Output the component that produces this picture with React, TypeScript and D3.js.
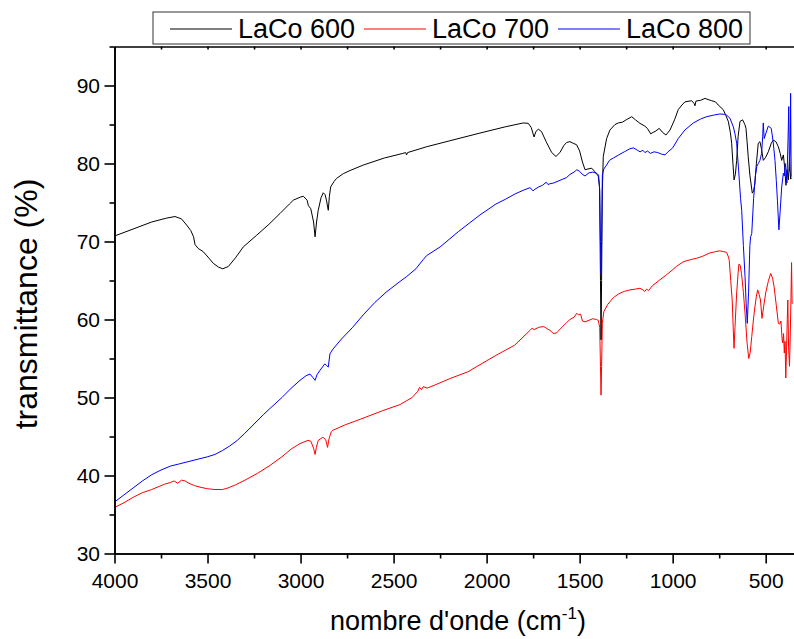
import * as d3 from 'd3';
import React, { useRef, useEffect } from 'react';

// FTIR spectra, [wavenumber cm-1, transmittance %]
const laCo600: [number, number][] = [
  [4000, 70.7], [3900, 71.6], [3800, 72.5], [3720, 73.0], [3675, 73.2], [3640, 72.9], [3612, 72.1],
  [3590, 71.4], [3575, 70.6], [3567, 69.6], [3550, 69.1], [3523, 68.7], [3490, 67.8], [3469, 67.2],
  [3440, 66.7], [3418, 66.5], [3388, 66.8], [3350, 67.9], [3308, 69.3], [3236, 70.8], [3170, 72.2],
  [3110, 73.6], [3060, 74.8], [3039, 75.3], [3000, 75.7], [2985, 75.8], [2965, 75.3], [2958, 74.6],
  [2945, 74.2], [2930, 72.5], [2922, 70.6], [2914, 72.5], [2905, 74.0], [2890, 75.6], [2878, 76.25],
  [2868, 76.0], [2860, 75.2], [2851, 74.0], [2845, 75.8], [2838, 77.0], [2820, 77.7], [2806, 78.1],
  [2770, 78.7], [2734, 79.1], [2663, 79.8], [2550, 80.7], [2450, 81.3], [2435, 81.4], [2430, 81.1],
  [2425, 81.4], [2322, 82.15], [2200, 82.9], [2036, 83.9], [1900, 84.7], [1803, 85.2], [1776, 85.15],
  [1760, 84.6], [1745, 83.4], [1735, 84.1], [1722, 84.4], [1705, 84.1], [1680, 82.8], [1650, 81.4],
  [1627, 80.9], [1606, 81.4], [1585, 82.3], [1570, 82.7], [1552, 82.8], [1535, 82.6], [1516, 82.4],
  [1500, 81.6], [1485, 80.2], [1471, 79.2], [1455, 79.3], [1435, 79.4], [1420, 79.0], [1400, 78.4],
  [1393, 77.0], [1388, 65.0], [1385, 57.4], [1382, 65.0], [1378, 76.5], [1373, 80.9], [1355, 83.2],
  [1337, 84.3], [1310, 85.0], [1292, 85.2], [1270, 85.3], [1250, 85.6], [1220, 86.0], [1200, 85.6],
  [1176, 85.15], [1150, 84.8], [1136, 84.5], [1118, 83.8], [1105, 84.0], [1095, 84.1], [1072, 84.5],
  [1055, 84.0], [1036, 83.65], [1014, 84.3], [990, 85.6], [970, 86.9], [950, 87.5], [934, 87.9],
  [898, 88.05], [885, 87.7], [880, 87.4], [875, 88.0], [850, 88.1], [826, 88.35], [810, 88.2],
  [790, 88.05], [770, 87.9], [755, 87.5], [728, 86.9], [715, 86.2], [701, 85.4], [690, 84.0],
  [683, 82.6], [676, 80.0], [670, 77.9], [663, 78.6], [656, 80.4], [648, 83.5], [638, 85.4],
  [624, 85.6], [612, 85.0], [606, 84.5], [600, 82.8], [594, 80.9], [585, 78.5], [572, 76.2],
  [565, 76.5], [558, 77.5], [550, 80.0], [540, 82.6], [531, 82.8], [522, 81.8], [513, 80.4],
  [500, 80.8], [486, 81.5], [470, 82.6], [459, 83.0], [445, 82.8], [432, 82.15], [422, 81.3],
  [414, 80.4], [405, 81.1], [398, 79.5], [391, 77.2], [385, 79.2], [378, 77.9], [372, 80.5],
  [366, 78.0], [360, 78.2],
];

const laCo700: [number, number][] = [
  [4000, 35.9], [3950, 36.5], [3900, 37.2], [3850, 37.8], [3800, 38.2], [3760, 38.6], [3730, 38.9],
  [3700, 39.1], [3680, 39.3], [3660, 39.0], [3640, 39.4], [3620, 39.3], [3600, 39.0], [3570, 38.7],
  [3540, 38.5], [3500, 38.3], [3460, 38.2], [3420, 38.2], [3390, 38.4], [3350, 38.8], [3299, 39.4],
  [3230, 40.3], [3164, 41.3], [3100, 42.4], [3050, 43.4], [3003, 44.1], [2960, 44.5], [2945, 44.4],
  [2930, 43.5], [2922, 42.7], [2915, 43.6], [2905, 44.5], [2880, 44.9], [2865, 44.6], [2855, 43.6],
  [2847, 44.7], [2835, 45.6], [2826, 45.8], [2760, 46.5], [2680, 47.2], [2560, 48.3], [2465, 49.1],
  [2400, 50.0], [2370, 50.8], [2360, 51.3], [2350, 51.0], [2340, 51.4], [2320, 51.2], [2278, 51.6],
  [2200, 52.4], [2100, 53.3], [2036, 54.2], [1950, 55.4], [1850, 56.7], [1767, 58.6], [1755, 58.9],
  [1745, 58.7], [1720, 59.0], [1693, 59.1], [1660, 58.6], [1640, 58.2], [1623, 58.3], [1600, 58.9],
  [1570, 59.6], [1552, 60.0], [1530, 60.3], [1515, 60.8], [1507, 60.6], [1495, 60.7], [1485, 59.8],
  [1471, 59.7], [1450, 59.9], [1430, 60.1], [1410, 60.0], [1400, 59.9], [1392, 59.0], [1388, 54.0],
  [1385, 50.3], [1382, 54.0], [1378, 59.5], [1370, 61.0], [1350, 61.9], [1319, 62.8], [1290, 63.3],
  [1260, 63.6], [1229, 63.8], [1200, 63.9], [1176, 64.0], [1160, 63.8], [1150, 63.6], [1140, 63.9],
  [1130, 63.7], [1110, 64.3], [1068, 65.1], [1040, 65.6], [1014, 66.1], [980, 66.8], [943, 67.4],
  [900, 67.7], [871, 67.85], [840, 68.1], [804, 68.5], [770, 68.7], [747, 68.8], [725, 68.7],
  [710, 68.6], [700, 68.0], [696, 67.6], [688, 65.0], [680, 62.5], [674, 58.5], [670, 56.3],
  [665, 59.0], [656, 63.4], [648, 66.0], [644, 67.1], [638, 67.0], [630, 65.9], [620, 63.5],
  [611, 60.8], [600, 57.0], [591, 55.0], [583, 55.8], [575, 57.8], [565, 60.2], [558, 61.6],
  [550, 63.0], [543, 63.8], [535, 63.2], [528, 62.5], [520, 60.15], [512, 61.5], [500, 63.4],
  [485, 65.0], [473, 65.9], [463, 65.3], [455, 64.2], [443, 61.8], [432, 59.5], [425, 59.4],
  [418, 59.8], [412, 57.5], [408, 57.0], [404, 58.2], [400, 55.7], [396, 57.2], [392, 52.5],
  [388, 56.0], [384, 60.0], [381, 62.5], [377, 56.5], [372, 54.0], [368, 58.0], [364, 63.0],
  [361, 67.3], [358, 62.0],
];

const laCo800: [number, number][] = [
  [4000, 36.6], [3950, 37.5], [3900, 38.4], [3850, 39.3], [3800, 40.1], [3750, 40.7], [3700, 41.2],
  [3650, 41.5], [3600, 41.8], [3550, 42.1], [3500, 42.4], [3460, 42.7], [3420, 43.2], [3380, 43.8],
  [3340, 44.5], [3300, 45.4], [3250, 46.6], [3200, 47.8], [3164, 48.6], [3100, 50.0], [3050, 51.2],
  [3003, 52.2], [2970, 52.8], [2949, 53.0], [2935, 52.6], [2922, 52.2], [2912, 52.9], [2895, 53.5],
  [2870, 54.3], [2860, 54.1], [2851, 53.9], [2842, 55.6], [2826, 56.2], [2780, 57.5], [2720, 59.0],
  [2663, 60.6], [2600, 62.2], [2540, 63.5], [2470, 64.8], [2430, 65.5], [2380, 66.5], [2340, 67.7],
  [2322, 68.2], [2250, 69.3], [2150, 71.3], [2036, 73.4], [1950, 74.8], [1900, 75.4], [1847, 76.1],
  [1800, 76.6], [1767, 76.9], [1750, 76.5], [1740, 76.7], [1720, 77.0], [1700, 77.2], [1680, 77.6],
  [1670, 77.3], [1660, 77.4], [1640, 77.5], [1600, 77.9], [1570, 78.2], [1552, 78.6], [1530, 78.9],
  [1515, 79.2], [1500, 79.0], [1485, 78.6], [1471, 78.4], [1450, 78.8], [1430, 78.9], [1408, 78.75],
  [1398, 78.5], [1392, 76.5], [1388, 70.0], [1385, 65.9], [1382, 70.0], [1378, 78.5], [1370, 79.3],
  [1355, 79.8], [1340, 80.4], [1319, 80.7], [1290, 81.1], [1260, 81.5], [1229, 81.9], [1210, 82.0],
  [1190, 81.7], [1175, 81.5], [1160, 81.7], [1149, 81.4], [1135, 81.6], [1120, 81.3], [1100, 81.5],
  [1080, 81.4], [1060, 81.2], [1041, 81.1], [1025, 81.5], [1000, 82.0], [970, 83.2], [934, 84.3],
  [889, 85.2], [850, 85.7], [817, 86.0], [780, 86.2], [747, 86.35], [720, 86.3], [710, 86.2],
  [692, 85.8], [674, 84.7], [665, 83.8], [656, 82.6], [645, 79.0], [635, 75.5], [629, 74.0],
  [620, 69.5], [611, 65.5], [605, 62.0], [599, 59.5], [592, 63.5], [585, 69.5], [581, 70.6],
  [575, 71.0], [565, 75.5], [555, 78.5], [548, 79.6], [540, 80.0], [531, 80.4], [522, 81.3],
  [516, 83.5], [513, 85.2], [508, 83.2], [500, 83.8], [486, 84.8], [470, 84.5], [460, 82.8],
  [450, 80.4], [443, 77.8], [437, 75.3], [429, 71.5], [422, 74.0], [414, 77.0], [405, 78.75],
  [400, 78.4], [395, 80.0], [390, 79.0], [386, 77.5], [380, 83.0], [376, 87.3], [372, 79.0],
  [368, 82.0], [366, 89.0], [363, 78.3],
];

const seriesNames = ['LaCo 600', 'LaCo 700', 'LaCo 800'];
const seriesData = [laCo600, laCo700, laCo800];
const seriesColors = ['#000000', '#ff0000', '#0000ff'];
// draw order as in the figure: red underneath, blue on top
const drawOrder = [1, 0, 2];

const xMajorTicks = [4000, 3500, 3000, 2500, 2000, 1500, 1000, 500];
const xMinorTicks = [3750, 3250, 2750, 2250, 1750, 1250, 750];
const yMajorTicks = [30, 40, 50, 60, 70, 80, 90];
const yMinorTicks = [35, 45, 55, 65, 75, 85, 95];

const width = 794;
const height = 639;
const font = '"Liberation Sans", Arial, sans-serif';

const App = () => {
  const gx = useRef<SVGGElement>(null);
  const gxMinor = useRef<SVGGElement>(null);
  const gy = useRef<SVGGElement>(null);
  const gyMinor = useRef<SVGGElement>(null);
  const gTop = useRef<SVGGElement>(null);

  const left = 114.5;
  const right = 793.6;
  const top = 46.5;
  const bottom = 553.5;

  const x = d3.scaleLinear().domain([4000, 350]).range([left, right]);
  const y = d3.scaleLinear().domain([30, 95]).range([bottom, top]);

  const line = d3
    .line<[number, number]>()
    .x((d) => x(d[0]))
    .y((d) => y(d[1]));

  useEffect(() => {
    const styleAxis = (g: any, size: number) => {
      g.attr('font-size', size).attr('font-family', font);
      g.selectAll('path, line').attr('stroke', '#000').attr('stroke-width', 1.6);
      g.selectAll('text').attr('fill', '#000');
    };

    d3.select(gx.current)
      .call(d3.axisBottom(x).tickValues(xMajorTicks).tickSize(10).tickSizeOuter(0).tickPadding(9.5).tickFormat(d3.format('d')))
      .call((g) => styleAxis(g, 21));
    d3.select(gxMinor.current)
      .call(d3.axisBottom(x).tickValues(xMinorTicks).tickSize(5).tickSizeOuter(0).tickFormat(() => ''))
      .call((g) => styleAxis(g, 21));
    d3.select(gy.current)
      .call(d3.axisLeft(y).tickValues(yMajorTicks).tickSize(10).tickSizeOuter(0).tickPadding(4.5).tickFormat(d3.format('d')))
      .call((g) => styleAxis(g, 21));
    d3.select(gyMinor.current)
      .call(d3.axisLeft(y).tickValues(yMinorTicks).tickSize(5).tickSizeOuter(0).tickFormat(() => ''))
      .call((g) => styleAxis(g, 21));
    d3.select(gTop.current)
      .call(d3.axisTop(x).tickValues([...xMajorTicks, ...xMinorTicks]).tickSize(-3).tickSizeOuter(0).tickFormat(() => ''))
      .call((g) => styleAxis(g, 21));
  }, [x, y]);

  const legendX = 153;
  const legendY = 12;
  const entryStep = 194;

  return (
    <svg
      width={width}
      height={height}
      style={{ position: 'absolute', left: 0, top: 0, background: '#fff' }}
      fontFamily={font}
    >
      <rect x={0} y={0} width={width} height={height} fill="#fff" />
      {drawOrder.map((i) => (
        <path
          key={seriesNames[i]}
          d={line(seriesData[i]) ?? ''}
          fill="none"
          stroke={seriesColors[i]}
          strokeWidth={1}
          strokeLinejoin="round"
        />
      ))}
      <g ref={gTop} transform={`translate(0,${top})`} />
      <g ref={gx} transform={`translate(0,${bottom})`} />
      <g ref={gxMinor} transform={`translate(0,${bottom})`} />
      <g ref={gy} transform={`translate(${left},0)`} />
      <g ref={gyMinor} transform={`translate(${left},0)`} />

      {/* legend */}
      <rect x={legendX} y={legendY} width={597} height={32} fill="#fff" stroke="#333" strokeWidth={1} />
      {seriesNames.map((name, i) => (
        <g key={name} transform={`translate(${legendX + 17 + i * entryStep},0)`}>
          <line x1={0} x2={62} y1={29} y2={29} stroke={seriesColors[i]} strokeWidth={1} />
          <text x={68} y={38} fontSize={27} fill="#000">
            {name}
          </text>
        </g>
      ))}

      {/* axis titles */}
      <text x={458} y={630} fontSize={27} textAnchor="middle" fill="#000">
        nombre d'onde (cm
        <tspan fontSize={17} dy={-11}>
          -1
        </tspan>
        <tspan dy={11}>)</tspan>
      </text>
      <text transform="translate(37,304) rotate(-90)" fontSize={32} textAnchor="middle" fill="#000">
        transmittance (%)
      </text>
    </svg>
  );
};

export default App;
